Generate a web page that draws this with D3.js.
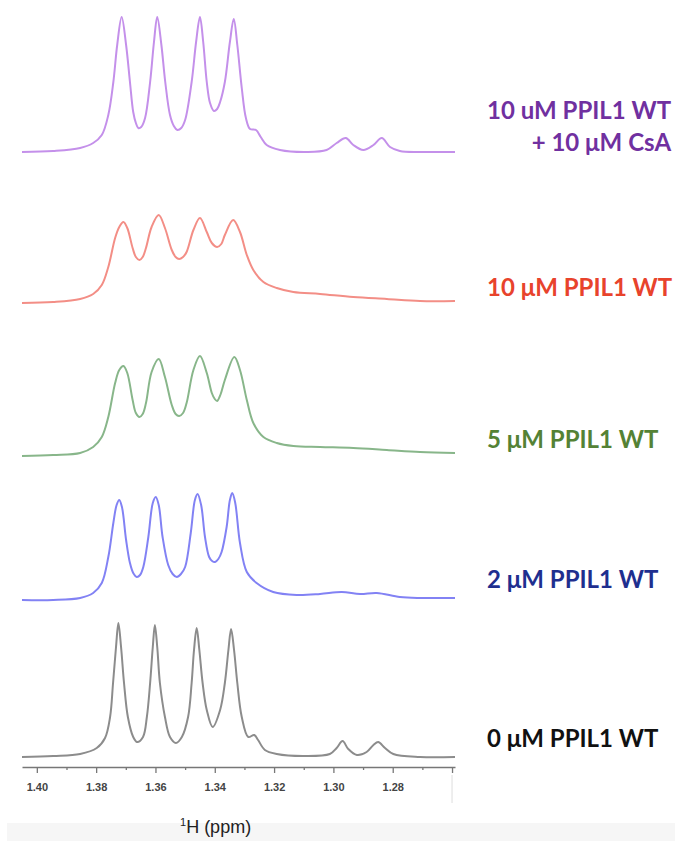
<!DOCTYPE html>
<html lang="en">
<head>
<meta charset="UTF-8">
<title>PPIL1 1H NMR</title>
<script src="https://d3js.org/d3.v7.min.js"></script>
<style>
  body { margin: 0; background: #fff; }
  .trace { fill: none; stroke-width: 2px; stroke-linejoin: round; }
  .label { font-family: Lato, "Open Sans", sans-serif; font-weight: 700; font-size: 24px; }
  .axis path, .axis line { stroke: #777; stroke-width: 1.3px; }
  .axis text { font-family: "Liberation Sans", Arial, sans-serif; font-weight: 700; font-size: 11px; fill: #444; }
  .axis-title { font-family: "Liberation Sans", Arial, sans-serif; font-size: 18px; fill: #222; }
</style>
</head>
<body>
<div id="chart"></div>
<script>
// spectra: [ppm, intensity (a.u.)]
const spectrumCsA = [[1.405,0],[1.3945,1],[1.3854,4],[1.3810,9],[1.3781,17],[1.3759,37],[1.3742,70],[1.3729,107],[1.3714,135],[1.3699,107],[1.3686,70],[1.3675,40],[1.3666,29],[1.3658,24],[1.3648,25],[1.3635,34],[1.3618,70],[1.3605,110],[1.3594,135],[1.3580,107],[1.3567,70],[1.3551,37],[1.3538,26],[1.3526,22],[1.3513,24],[1.3500,32],[1.3478,70],[1.3463,110],[1.3450,135],[1.3439,110],[1.3427,70],[1.3416,49],[1.3403,41],[1.3392,43],[1.3382,50],[1.3366,70],[1.3349,110],[1.3336,133],[1.3324,107],[1.3309,64],[1.3295,34],[1.3281,23],[1.3261,22],[1.3245,15],[1.3225,7],[1.3180,2],[1.3090,0],[1.3023,2],[1.2989,9],[1.2958,14],[1.2933,7],[1.2899,2],[1.2865,7],[1.2837,14],[1.2809,5],[1.2776,1],[1.2708,0],[1.2590,0]];
const spectrum10 = [[1.405,0],[1.3945,1],[1.3854,4],[1.3810,9],[1.3781,18],[1.3759,36],[1.3736,65],[1.3722,76],[1.3708,81],[1.3695,75],[1.3677,55],[1.3666,46],[1.3654,43],[1.3643,46],[1.3632,55],[1.3613,76],[1.3589,88],[1.3568,75],[1.3545,53],[1.3532,46],[1.3520,44],[1.3507,46],[1.3495,51],[1.3472,73],[1.3450,85],[1.3427,71],[1.3410,60],[1.3392,56],[1.3378,59],[1.3366,68],[1.3338,83],[1.3315,71],[1.3292,48],[1.3270,33],[1.3236,21],[1.3191,15],[1.3135,11],[1.3045,9],[1.2933,6],[1.2820,4],[1.2708,2],[1.2590,2]];
const spectrum5 = [[1.405,0],[1.3945,1],[1.3854,3],[1.3810,9],[1.3781,19],[1.3759,39],[1.3736,73],[1.3722,86],[1.3708,90],[1.3695,83],[1.3677,56],[1.3666,43],[1.3654,39],[1.3643,42],[1.3632,53],[1.3613,84],[1.3589,97],[1.3568,79],[1.3545,51],[1.3532,42],[1.3520,40],[1.3507,43],[1.3495,53],[1.3472,86],[1.3450,100],[1.3427,83],[1.3410,63],[1.3400,57],[1.3392,55],[1.3380,62],[1.3366,76],[1.3334,99],[1.3315,86],[1.3292,56],[1.3270,33],[1.3236,19],[1.3191,13],[1.3135,10],[1.3045,9],[1.2933,8],[1.2820,6],[1.2708,4],[1.2590,3]];
const spectrum2 = [[1.405,0],[1.3945,0],[1.3854,2],[1.3810,7],[1.3781,17],[1.3759,43],[1.3742,77],[1.3731,95],[1.3722,100],[1.3713,93],[1.3699,60],[1.3686,37],[1.3675,27],[1.3663,23],[1.3652,25],[1.3641,33],[1.3624,63],[1.3609,97],[1.3599,103],[1.3589,95],[1.3576,63],[1.3557,35],[1.3542,26],[1.3528,23],[1.3514,26],[1.3500,33],[1.3481,67],[1.3467,100],[1.3458,106],[1.3446,95],[1.3433,63],[1.3419,43],[1.3409,39],[1.3399,38],[1.3388,41],[1.3377,48],[1.3360,73],[1.3349,100],[1.3341,107],[1.3331,97],[1.3315,57],[1.3292,28],[1.3259,17],[1.3203,8],[1.3124,5],[1.3045,6],[1.2972,8],[1.2910,6],[1.2854,7],[1.2776,3],[1.2708,2],[1.2590,2]];
const spectrum0 = [[1.405,0],[1.3945,1],[1.3854,3],[1.3798,9],[1.3770,19],[1.3753,40],[1.3743,74],[1.3733,110],[1.3725,134],[1.3716,110],[1.3706,74],[1.3693,40],[1.3675,20],[1.3662,15],[1.3642,20],[1.3629,40],[1.3618,74],[1.3609,110],[1.3602,132],[1.3594,110],[1.3585,74],[1.3568,40],[1.3551,20],[1.3531,14],[1.3511,20],[1.3490,40],[1.3478,74],[1.3470,107],[1.3461,129],[1.3452,107],[1.3441,74],[1.3427,47],[1.3407,30],[1.3382,47],[1.3366,74],[1.3354,107],[1.3345,128],[1.3335,107],[1.3324,74],[1.3309,40],[1.3287,20],[1.3267,22],[1.3254,17],[1.3231,7],[1.3191,3],[1.3103,1],[1.3012,3],[1.2989,9],[1.2969,16],[1.2950,8],[1.2921,2],[1.2888,5],[1.2865,12],[1.2849,15],[1.2826,9],[1.2798,3],[1.2708,0],[1.2590,0]];

const spectra = [spectrumCsA, spectrum10, spectrum5, spectrum2, spectrum0];
const sampleNames = ["10 uM PPIL1 WT", "10 μM PPIL1 WT", "5 μM PPIL1 WT", "2 μM PPIL1 WT", "0 μM PPIL1 WT"];
const subNames = ["+ 10 μM CsA", "", "", "", ""];
const majorTicks = [1.40, 1.38, 1.36, 1.34, 1.32, 1.30, 1.28, 1.26];
const minorTicks = [1.39, 1.37, 1.35, 1.33, 1.31, 1.29, 1.27];

// look
const traceColors = ["#c490ea", "#f38e86", "#88b68a", "#8282f4", "#8c8c8c"];
const labelColors = ["#7030a0", "#e8432c", "#548235", "#1f2f8f", "#111111"];
const baselines = [152, 303, 456, 600, 757];
const labelY = [119, 296, 448, 588, 747];

const width = 675, height = 841;
const svg = d3.select("#chart").append("svg")
    .attr("width", width).attr("height", height);

// light band under the axis title
svg.append("rect").attr("x", 7).attr("y", 823).attr("width", width - 7).attr("height", height - 823)
    .attr("fill", "#f6f6f6");

const x = d3.scaleLinear().domain([1.405, 1.259]).range([22, 455]);
const y = d3.scaleLinear().domain([0, 140]).range([0, -140]);

const line = d3.line()
    .x(d => x(d[0]))
    .y(d => y(d[1]))
    .curve(d3.curveCatmullRom.alpha(0.5));

spectra.forEach((s, i) => {
    svg.append("g")
        .attr("transform", `translate(0,${baselines[i]})`)
        .append("path")
        .datum(s)
        .attr("class", "trace")
        .attr("stroke", traceColors[i])
        .attr("d", line);

    const t = svg.append("text")
        .attr("class", "label")
        .attr("x", 487).attr("y", labelY[i])
        .attr("fill", labelColors[i])
        .text(sampleNames[i]);
    if (subNames[i]) {
        const w = t.node().getComputedTextLength();
        svg.append("text")
            .attr("class", "label")
            .attr("x", 487 + w).attr("y", labelY[i] + 32)
            .attr("text-anchor", "end")
            .attr("fill", labelColors[i])
            .text(subNames[i]);
    }
});

// x axis
const axisY = 767;
svg.append("g")
    .attr("class", "axis")
    .attr("transform", `translate(0,${axisY})`)
    .call(d3.axisBottom(x).tickValues(majorTicks).tickSize(6).tickSizeOuter(0).tickPadding(10)
        .tickFormat(d => d < 1.27 ? "" : d3.format(".2f")(d)));

svg.append("g")
    .attr("class", "axis")
    .attr("transform", `translate(0,${axisY})`)
    .call(d3.axisBottom(x).tickValues(minorTicks).tickSize(3).tickFormat(""))
    .select(".domain").remove();

svg.append("line")
    .attr("x1", x(1.26)).attr("x2", x(1.26))
    .attr("y1", axisY + 8).attr("y2", axisY + 36)
    .attr("stroke", "#ddd");

const title = svg.append("text")
    .attr("class", "axis-title")
    .attr("x", 180).attr("y", 833);
title.append("tspan").attr("font-size", "11px").attr("dy", "-7").text("1");
title.append("tspan").attr("dy", "7").text("H (ppm)");
</script>
</body>
</html>
